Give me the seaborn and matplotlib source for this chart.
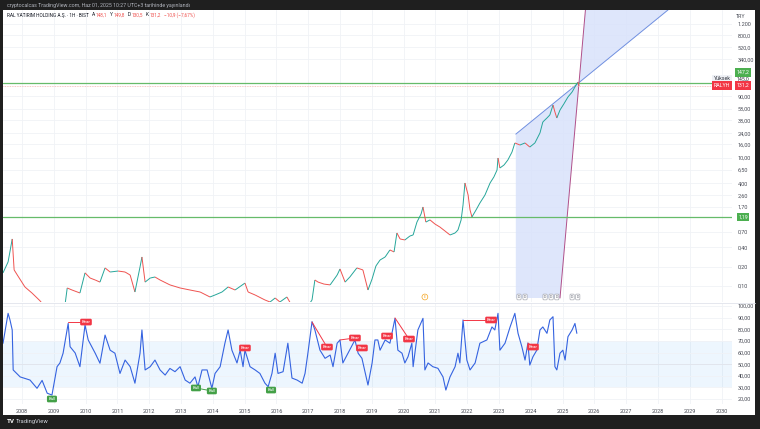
import matplotlib
matplotlib.use("Agg")
import matplotlib.pyplot as plt
import seaborn as sns
import numpy as np
import pandas as pd
from matplotlib.lines import Line2D
from matplotlib.patches import Rectangle
from matplotlib.ticker import NullLocator

# ---------------- data ----------------
price_years = [2007.40, 2007.56, 2007.69, 2007.75, 2007.87, 2008.09, 2008.31, 2008.57, 2008.69, 2009.04,
               2009.35, 2009.42, 2009.57, 2009.82, 2009.98, 2010.14, 2010.30, 2010.45, 2010.61, 2010.77,
               2011.02, 2011.24, 2011.40, 2011.55, 2011.71, 2011.77, 2011.87, 2012.03, 2012.18, 2012.34,
               2012.65, 2012.97, 2013.28, 2013.60, 2013.91, 2014.07, 2014.29, 2014.48, 2014.70, 2015.01,
               2015.11, 2015.33, 2015.64, 2015.80, 2015.96, 2016.11, 2016.33, 2016.49, 2016.74, 2016.99,
               2017.12, 2017.21, 2017.31, 2017.50, 2017.69, 2017.91, 2018.00, 2018.16, 2018.31, 2018.53,
               2018.72, 2018.88, 2019.01, 2019.13, 2019.26, 2019.42, 2019.57, 2019.70, 2019.79, 2019.89,
               2020.04, 2020.20, 2020.30, 2020.42, 2020.55, 2020.61, 2020.70, 2020.83, 2020.99, 2021.14,
               2021.30, 2021.46, 2021.62, 2021.71, 2021.81, 2021.87, 2021.93, 2022.03, 2022.09, 2022.15,
               2022.28, 2022.40, 2022.56, 2022.72, 2022.84, 2022.94, 2022.97, 2023.03, 2023.16, 2023.28,
               2023.41, 2023.50, 2023.66, 2023.82, 2023.97, 2024.13, 2024.29, 2024.38, 2024.51, 2024.60,
               2024.70, 2024.76, 2024.82, 2024.92, 2025.04, 2025.17, 2025.30, 2025.39, 2025.48, 2025.52]
price_close = [0.160, 0.237, 0.540, 0.178, 0.143, 0.0965, 0.0778, 0.0584, 0.0488, 0.0423,
               0.0506, 0.0931, 0.0866, 0.0778, 0.160, 0.133, 0.124, 0.115, 0.191, 0.165,
               0.171, 0.165, 0.148, 0.0806, 0.198, 0.283, 0.115, 0.133, 0.138, 0.124,
               0.104, 0.0931, 0.0866, 0.0806, 0.0674, 0.0724, 0.0806, 0.0965, 0.0866, 0.111,
               0.0806, 0.0724, 0.0605, 0.0563, 0.0650, 0.0563, 0.0674, 0.0488, 0.0454, 0.0488,
               0.0605, 0.124, 0.115, 0.107, 0.104, 0.148, 0.184, 0.115, 0.138, 0.191,
               0.178, 0.0866, 0.129, 0.205, 0.254, 0.283, 0.364, 0.339, 0.669, 0.540,
               0.521, 0.601, 0.623, 0.99, 1.32, 1.70, 0.99, 1.07, 0.92, 0.83,
               0.72, 0.623, 0.669, 0.745, 1.07, 1.83, 4.02, 2.61, 1.53, 1.19,
               1.53, 1.96, 2.61, 4.02, 4.99, 6.41, 9.86, 6.89, 7.67, 9.18,
               12.2, 16.9, 15.7, 16.9, 14.6, 16.9, 24.2, 35.9, 41.4, 46.1,
               65.9, 51.3, 41.4, 55.1, 68.4, 87.9, 105.0, 126.0, 150.0, 131.2]

rsi_years = [2007.40, 2007.56, 2007.62, 2007.69, 2007.72, 2007.94, 2008.25, 2008.47, 2008.63, 2008.79,
             2008.94, 2009.10, 2009.19, 2009.29, 2009.45, 2009.51, 2009.67, 2009.82, 2009.98, 2010.08,
             2010.30, 2010.45, 2010.61, 2010.77, 2010.92, 2011.08, 2011.24, 2011.40, 2011.55, 2011.71,
             2011.77, 2011.87, 2012.03, 2012.18, 2012.34, 2012.50, 2012.65, 2012.81, 2012.97, 2013.13,
             2013.28, 2013.44, 2013.53, 2013.66, 2013.82, 2013.97, 2014.07, 2014.23, 2014.38, 2014.48,
             2014.60, 2014.76, 2014.86, 2014.95, 2015.01, 2015.17, 2015.33, 2015.48, 2015.64, 2015.74,
             2015.86, 2015.96, 2016.05, 2016.21, 2016.36, 2016.49, 2016.65, 2016.81, 2016.90, 2016.99,
             2017.12, 2017.21, 2017.37, 2017.53, 2017.69, 2017.78, 2017.91, 2018.00, 2018.09, 2018.25,
             2018.47, 2018.57, 2018.69, 2018.88, 2019.01, 2019.10, 2019.19, 2019.26, 2019.42, 2019.57,
             2019.73, 2019.82, 2019.95, 2020.04, 2020.14, 2020.26, 2020.30, 2020.45, 2020.61, 2020.67,
             2020.77, 2020.92, 2021.08, 2021.24, 2021.33, 2021.46, 2021.62, 2021.71, 2021.77, 2021.87,
             2021.99, 2022.09, 2022.25, 2022.40, 2022.62, 2022.78, 2022.87, 2022.97, 2023.03, 2023.19,
             2023.35, 2023.50, 2023.60, 2023.72, 2023.82, 2023.91, 2023.97, 2024.07, 2024.19, 2024.29,
             2024.38, 2024.51, 2024.60, 2024.70, 2024.76, 2024.82, 2024.92, 2025.01, 2025.08, 2025.17,
             2025.30, 2025.39, 2025.45]
rsi_values = [67.9, 93.7, 88.0, 79.4, 45.0, 39.0, 36.3, 29.2, 36.0, 25.0,
              23.4, 47.8, 51.0, 59.4, 85.0, 65.0, 59.6, 47.8, 83.7, 70.8,
              59.4, 50.8, 75.0, 62.0, 59.4, 42.0, 53.5, 47.8, 33.6, 59.4,
              79.4, 45.0, 47.8, 53.5, 45.0, 40.6, 46.3, 43.5, 47.8, 36.3,
              33.6, 39.0, 30.6, 45.0, 45.0, 29.2, 42.0, 47.8, 68.0, 79.4,
              62.0, 51.0, 62.0, 47.8, 62.0, 47.8, 45.0, 42.0, 33.6, 30.6,
              42.0, 59.4, 42.0, 43.5, 68.0, 38.0, 36.3, 33.6, 42.0, 59.4,
              86.5, 79.4, 62.0, 55.0, 57.8, 47.8, 68.0, 70.8, 51.0, 59.4,
              70.8, 59.4, 55.0, 32.0, 51.0, 70.8, 70.8, 62.0, 70.8, 68.0,
              89.4, 62.0, 59.4, 51.0, 56.4, 68.0, 47.8, 79.4, 89.4, 45.0,
              51.0, 47.8, 46.4, 39.0, 27.7, 39.0, 47.8, 59.4, 51.0, 88.0,
              53.5, 45.0, 51.0, 68.0, 70.8, 82.0, 79.4, 93.7, 62.0, 68.0,
              82.0, 93.7, 76.5, 65.0, 53.5, 68.0, 49.2, 56.4, 62.0, 79.4,
              82.0, 76.5, 88.0, 90.8, 47.8, 45.0, 59.4, 62.0, 53.5, 73.6,
              79.4, 85.0, 76.5]

# divergence signals: label position, kind, start of the connecting line
sig_years = [2008.94, 2013.47, 2013.97, 2015.83, 2010.01, 2015.01, 2017.59, 2018.47, 2018.69,
             2019.48, 2020.17, 2022.75, 2024.07]
sig_rsi = [20.0, 29.5, 26.9, 27.7, 86.2, 63.9, 64.7, 72.5, 63.9, 74.2, 71.6, 88.0, 64.7]
sig_kind = ["Bull", "Bull", "Bull", "Bull", "Bear", "Bear", "Bear", "Bear", "Bear",
            "Bear", "Bear", "Bear", "Bear"]
sig_from_years = [None, None, 2013.47, None, 2009.45, None, 2017.12, 2018.00, None,
                  None, 2019.73, 2021.87, 2023.91]
sig_from_rsi = [None, None, 29.5, None, 86.2, None, 86.2, 70.8, None, None, 89.7, 88.0, 68.2]

# fan drawing anchors (year, price)
fan_years = [2023.53, 2024.92, 2025.52, 2025.72, 2028.32]
fan_prices = [23.2, 0.065, 148.0, 2000.0, 2000.0]

level_high = 147.2
level_low = 1.19
last_close = 131.2

event_years = [2023.63, 2023.82, 2024.45, 2024.64, 2024.82, 2025.30, 2025.48]
earn_year = 2020.67

price_ticks = [1200, 800, 520, 340, 90, 58, 38, 24, 16, 10, 6.5, 4, 2.6, 1.7, 0.7, 0.4, 0.2, 0.1]
price_tick_labels = ["1.200", "800,0", "520,0", "340,00", "90,00", "58,00", "38,00", "24,00",
                     "16,00", "10,00", "6,50", "4,00", "2,60", "1,70", "0,70", "0,40", "0,20", "0,10"]
rsi_ticks = [100, 90, 80, 70, 60, 50, 40, 30, 20]
rsi_tick_labels = ["100,00", "90,00", "80,00", "70,00", "60,00", "50,00", "40,00", "30,00", "20,00"]
year_ticks = list(range(2008, 2031))
year_labels = [str(y) for y in year_ticks]

header_parts = [("RAL YATIRIM HOLDING A.Ş. · 1H · BIST", "#131722"), ("A", "#131722"), ("148,1", "#ef5350"),
                ("Y", "#131722"), ("149,8", "#ef5350"), ("D", "#131722"), ("130,5", "#ef5350"),
                ("K", "#131722"), ("131,2", "#ef5350"), ("−10,9 (−7,67%)", "#ef5350")]

# ---------------- styling ----------------
sns.set_theme(style="white")
plt.rcParams["font.family"] = ["Roboto", "DejaVu Sans"]

W, H = 760, 429
def fx(px): return px / W
def fy(py): return 1 - py / H

DARK = "#1f1f1f"
GREEN = "#26a69a"
RED = "#ef5350"
GRID = "#f0f2f6"
TXT = "#4a4d57"

fig = plt.figure(figsize=(W / 100, H / 100), dpi=100, facecolor=DARK)
fig.add_artist(Rectangle((fx(3), fy(415)), (755 - 3) / W, (415 - 10) / H,
                         transform=fig.transFigure, facecolor="white", edgecolor="none", zorder=0))

ax_p = fig.add_axes([fx(3), fy(302), (732 - 3) / W, (302 - 10) / H])
ax_r = fig.add_axes([fx(3), fy(404), (732 - 3) / W, (404 - 303) / H], sharex=ax_p)
for ax in (ax_p, ax_r):
    ax.set_facecolor("none")
    for s in ax.spines.values():
        s.set_visible(False)

xlim = (2007.40, 2030.33)

# ---- price panel ----
ax_p.set_yscale("log")
ax_p.set_xlim(*xlim)
ax_p.set_ylim(0.0563, 1991)
for y in year_ticks:
    ax_p.axvline(y, color=GRID, lw=0.6, zorder=0)
    ax_r.axvline(y, color=GRID, lw=0.6, zorder=0)
for t in price_ticks:
    ax_p.axhline(t, color=GRID, lw=0.6, zorder=0)

# fan drawing
ax_p.fill([fan_years[0], fan_years[0], fan_years[1], fan_years[2]],
          [fan_prices[0], fan_prices[1], fan_prices[1], fan_prices[2]],
          color="#d9e2fb", alpha=0.85, lw=0, zorder=1)
ax_p.fill([fan_years[2], fan_years[3], fan_years[4]],
          [fan_prices[2], fan_prices[3], fan_prices[4]],
          color="#d9e2fb", alpha=0.85, lw=0, zorder=1)
ax_p.plot([fan_years[0], fan_years[4]], [fan_prices[0], fan_prices[4]], color="#6f8fe0", lw=0.7, zorder=2)
ax_p.plot([fan_years[1], fan_years[3]], [fan_prices[1], fan_prices[3]], color="#b0508a", lw=0.7, zorder=2)

# horizontal levels
ax_p.axhline(level_high, color="#66bb6a", lw=0.9, zorder=3)
ax_p.axhline(level_low, color="#66bb6a", lw=0.9, zorder=3)
ax_p.axhline(last_close, color="#f5b3b2", lw=0.6, ls=(0, (1, 1)), zorder=3)

# price path
df_p = pd.DataFrame({"year": price_years, "close": price_close})
for i in range(1, len(df_p)):
    c = GREEN if df_p.close[i] >= df_p.close[i - 1] else RED
    ax_p.plot(df_p.year[i - 1:i + 1], df_p.close[i - 1:i + 1], color=c, lw=0.7, zorder=4,
              solid_capstyle="butt")

# event markers
for ey in event_years:
    ax_p.text(ey, 0.0674, "D", fontsize=2.6, color="#6a6d78", ha="center", va="center", zorder=5,
              bbox=dict(boxstyle="round,pad=0.25", fc="white", ec="#9598a1", lw=0.4))
ax_p.text(earn_year, 0.0674, "E", fontsize=2.6, color="#f5a623", ha="center", va="center", zorder=5,
          bbox=dict(boxstyle="circle,pad=0.25", fc="white", ec="#f5a623", lw=0.5))

ax_p.yaxis.tick_right()
ax_p.yaxis.set_minor_locator(NullLocator())
ax_p.set_yticks(price_ticks)
ax_p.set_yticklabels(price_tick_labels)
ax_p.tick_params(axis="y", length=0, pad=4, labelsize=4, labelcolor=TXT)
ax_p.tick_params(axis="x", length=0, labelbottom=False)
ax_p.set_xlabel("")
ax_p.set_ylabel("")

# ---- RSI panel ----
ax_r.set_ylim(15.7, 102.6)
ax_r.axhspan(30, 70, color="#2196f3", alpha=0.08, lw=0, zorder=0)
for t in rsi_ticks:
    ax_r.axhline(t, color=GRID, lw=0.6, zorder=0)
ax_r.axhline(50, color="#dfe3ec", lw=0.6, zorder=0)
df_r = pd.DataFrame({"year": rsi_years, "rsi": rsi_values})
sns.lineplot(data=df_r, x="year", y="rsi", ax=ax_r, color="#3563e0", lw=0.8, zorder=3)

for yr, v, k, fyr, fv in zip(sig_years, sig_rsi, sig_kind, sig_from_years, sig_from_rsi):
    col = "#f23645" if k == "Bear" else "#43a047"
    if fyr is not None:
        ax_r.plot([fyr, yr], [fv, v], color=col, lw=0.7, zorder=4)
    ax_r.text(yr, v, k, fontsize=3.2, color="white", ha="center", va="center", zorder=5,
              bbox=dict(boxstyle="round,pad=0.3", fc=col, ec="none"))

ax_r.yaxis.tick_right()
ax_r.set_yticks(rsi_ticks)
ax_r.set_yticklabels(rsi_tick_labels)
ax_r.set_xticks(year_ticks)
ax_r.set_xticklabels(year_labels)
ax_r.tick_params(axis="y", length=0, pad=4, labelsize=4, labelcolor=TXT)
ax_r.tick_params(axis="x", length=0, pad=3.5, labelsize=4, labelcolor=TXT)
ax_r.set_xlim(*xlim)
ax_r.set_xlabel("")
ax_r.set_ylabel("")

# panel separator
fig.add_artist(Line2D([fx(3), fx(755)], [fy(302.5), fy(302.5)], color="#e0e3eb", lw=0.6))

# ---- right scale tags ----
def tag(px, py, s, fc, tc="white", size=3.8):
    fig.text(fx(px), fy(py), s, fontsize=size, color=tc, ha="center", va="center",
             bbox=dict(boxstyle="square,pad=0.3", fc=fc, ec="none"))

fig.text(fx(741), fy(16), "TRY", fontsize=3.8, color=TXT, ha="center", va="center")
tag(743, 72.5, "147,2", "#4caf50")
tag(722, 79, "Yüksek", "#eef0f5", tc="#333640")
fig.text(fx(743), fy(79), "145,0", fontsize=3.8, color="#333640", ha="center", va="center")
tag(722, 85.5, "RALYH", "#f23645")
tag(743, 85.5, "131,2", "#f23645")
tag(743, 217, "1,19", "#4caf50")

# ---- header / footer ----
fig.text(fx(7), fy(5), "cryptocalcas TradingView.com, Haz 01, 2025 10:27 UTC+3 tarihinde yayınlandı",
         fontsize=3.8, color="#b2b5be", ha="left", va="center")

renderer = fig.canvas.get_renderer()
cur_x = 7.0
for idx, (s, c) in enumerate(header_parts):
    t = fig.text(fx(cur_x), fy(15), s, fontsize=3.4, color=c, ha="left", va="center")
    w = t.get_window_extent(renderer).width
    # small gap only between letter and its value
    is_letter = s in ("A", "Y", "D", "K")
    cur_x += w + (0.6 if is_letter else 3.0)

fig.text(fx(7), fy(421.5), "TV", fontsize=4.5, color="white", ha="left", va="center", fontweight="bold")
fig.text(fx(16), fy(421.5), "TradingView", fontsize=4.2, color="#d1d4dc", ha="left", va="center")

fig.savefig("out.png", dpi=100, facecolor=DARK)
